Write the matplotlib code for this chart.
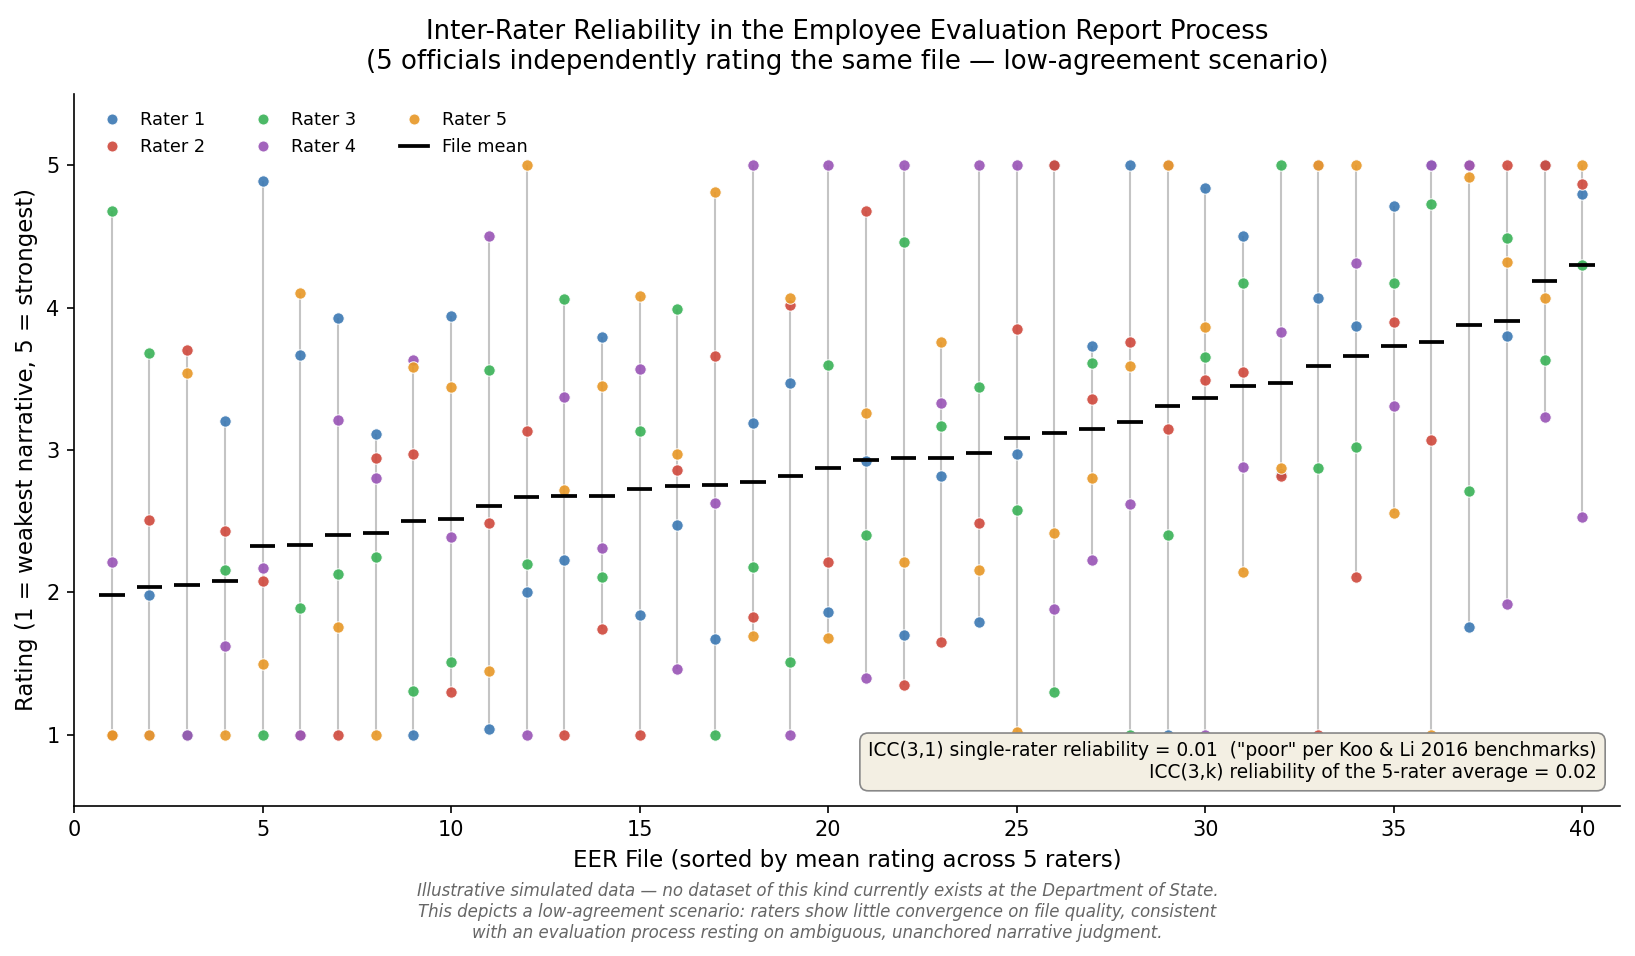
import numpy as np
import matplotlib
matplotlib.use("Agg")
import matplotlib.pyplot as plt
from matplotlib.lines import Line2D

files = list(range(1, 41))
rater_names = ["Rater 1", "Rater 2", "Rater 3", "Rater 4", "Rater 5"]
rater_colors = ["#3f7bb4", "#d04c40", "#3db35a", "#9a57b7", "#e8992a"]

r1 = [1.00, 1.98, 1.00, 3.20, 4.89, 3.67, 3.93, 3.11, 1.00, 3.94,
      1.04, 2.00, 2.23, 3.79, 1.84, 2.47, 1.67, 3.19, 3.47, 1.86,
      2.92, 1.70, 2.82, 1.79, 2.97, 5.00, 3.73, 5.00, 1.00, 4.84,
      4.50, 2.83, 4.07, 3.87, 4.71, 5.00, 1.76, 3.80, 5.00, 4.80]
r2 = [1.00, 2.51, 3.70, 2.43, 2.08, 1.00, 1.00, 2.94, 2.97, 1.30,
      2.49, 3.13, 1.00, 1.74, 1.00, 2.86, 3.66, 1.83, 4.02, 2.21,
      4.68, 1.35, 1.65, 2.49, 3.85, 5.00, 3.36, 3.76, 3.15, 3.49,
      3.55, 2.82, 1.00, 2.11, 3.90, 3.07, 5.00, 5.00, 5.00, 4.87]
r3 = [4.68, 3.68, 1.00, 2.16, 1.00, 1.89, 2.13, 2.25, 1.31, 1.51,
      3.56, 2.20, 4.06, 2.11, 3.13, 3.99, 1.00, 2.18, 1.51, 3.60,
      2.40, 4.46, 3.17, 3.44, 2.58, 1.30, 3.61, 1.00, 2.40, 3.65,
      4.17, 5.00, 2.87, 3.02, 4.17, 4.73, 2.71, 4.49, 3.63, 4.30]
r4 = [2.21, 1.00, 1.00, 1.62, 2.17, 1.00, 3.21, 2.80, 3.63, 2.39,
      4.50, 1.00, 3.37, 2.31, 3.57, 1.46, 2.63, 5.00, 1.00, 5.00,
      1.40, 5.00, 3.33, 5.00, 5.00, 1.88, 2.23, 2.62, 5.00, 1.00,
      2.88, 3.83, 5.00, 4.31, 3.31, 5.00, 5.00, 1.92, 3.23, 2.53]
r5 = [1.00, 1.00, 3.54, 1.00, 1.50, 4.10, 1.76, 1.00, 3.58, 3.44,
      1.45, 5.00, 2.72, 3.45, 4.08, 2.97, 4.81, 1.69, 4.07, 1.68,
      3.26, 2.21, 3.76, 2.16, 1.02, 2.42, 2.80, 3.59, 5.00, 3.86,
      2.14, 2.87, 5.00, 5.00, 2.56, 1.00, 4.92, 4.32, 4.07, 5.00]

icc_single = 0.01
icc_avg = 0.02

ratings = np.array([r1, r2, r3, r4, r5])
x = np.array(files)
means = ratings.mean(axis=0)
lo = ratings.min(axis=0)
hi = ratings.max(axis=0)

fig = plt.figure(figsize=(10.9, 956 / 150), dpi=150)
ax = fig.add_axes([0.0453, 0.157, 0.9455, 0.7447])

ax.vlines(x, lo, hi, color="#c4c4c4", lw=1.0, zorder=1)
for vals, name, col in zip(ratings, rater_names, rater_colors):
    ax.scatter(x, vals, s=30, color=col, alpha=0.92, edgecolor="white",
               linewidth=0.5, zorder=3, label=name)
ax.hlines(means, x - 0.34, x + 0.34, color="black", lw=1.8, zorder=4)

handles = [Line2D([], [], marker="o", ls="none", color=c, markersize=5.3,
                  markeredgecolor="white", markeredgewidth=0.5, alpha=0.92)
           for c in rater_colors]
handles.append(Line2D([], [], color="black", lw=1.8))
labels = rater_names + ["File mean"]
ax.legend(handles, labels, loc="upper left", ncol=3, frameon=False,
          fontsize=8.5, columnspacing=2.45, handlelength=1.6,
          bbox_to_anchor=(0.005, 0.998))

ax.set_xlim(0, 41)
ax.set_ylim(0.5, 5.5)
ax.set_xticks(range(0, 41, 5))
ax.set_yticks([1, 2, 3, 4, 5])
ax.tick_params(labelsize=10)
ax.spines["top"].set_visible(False)
ax.spines["right"].set_visible(False)
ax.set_xlabel("EER File (sorted by mean rating across 5 raters)", fontsize=11)
ax.set_ylabel("Rating (1 = weakest narrative, 5 = strongest)", fontsize=11)
ax.set_title("Inter-Rater Reliability in the Employee Evaluation Report Process\n"
             "(5 officials independently rating the same file \u2014 low-agreement scenario)",
             fontsize=12.5, pad=12)

ax.text(0.985, 0.033,
        f'ICC(3,1) single-rater reliability = {icc_single:.2f}  ("poor" per Koo & Li 2016 benchmarks)\n'
        f'ICC(3,k) reliability of the 5-rater average = {icc_avg:.2f}',
        transform=ax.transAxes, ha="right", va="bottom", fontsize=8.95, zorder=10,
        bbox=dict(boxstyle="round,pad=0.45", facecolor="#f3efe3", edgecolor="#888888",
                  linewidth=0.8))

fig.text(0.5, 0.0774,
         "Illustrative simulated data \u2014 no dataset of this kind currently exists at the Department of State.\n"
         "This depicts a low-agreement scenario: raters show little convergence on file quality, consistent\n"
         "with an evaluation process resting on ambiguous, unanchored narrative judgment.",
         ha="center", va="top", fontsize=8, style="italic", color="#666666")

fig.savefig("out.png", dpi=150)
